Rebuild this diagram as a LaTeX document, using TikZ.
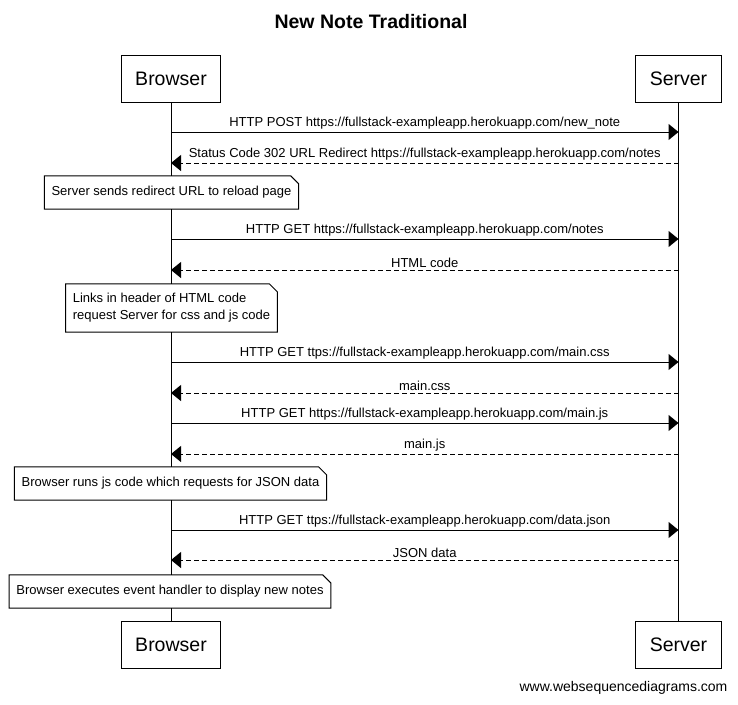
\documentclass[tikz,border=0pt]{standalone}
\usepackage{fontspec}
\setmainfont{Liberation Sans}
\usetikzlibrary{arrows.meta, positioning}

\newcommand{\dognote}[1]{%
  \draw[line width=1pt] (#1.south west) -- (#1.north west)
    -- ([xshift=-8pt]#1.north east) -- ([yshift=-8pt]#1.north east)
    -- (#1.south east) -- cycle;}

\begin{document}
\begin{tikzpicture}[
  x=1pt, y=-1pt,
  every node/.style={font=\fontsize{13}{17}\selectfont},
  actor/.style={rectangle, draw, line width=1pt, inner xsep=14pt,
                minimum height=47pt, font=\fontsize{19.5}{23}\selectfont},
  lifeline/.style={line width=1pt},
  msg/.style={line width=1pt, -{Triangle[length=10pt, width=16pt]}},
  reply/.style={msg, dash pattern=on 5pt off 3pt},
  lbl/.style={above=2pt, inner sep=0pt},
  notebox/.style={rectangle, fill=white, inner xsep=7pt, inner ysep=3pt,
                  minimum height=33pt, align=left}
]
  \fill[white] (0,0) rectangle (738,704);

  \node[font=\bfseries\fontsize{19.5}{23}\selectfont] (title) at (371,21.5)
    {New Note Traditional};

  % participants
  \node[actor] (Btop) at (171,78.5) {Browser};
  \node[actor] (Stop) at (678.5,78.5) {Server};
  \node[actor] (Bbot) at (171,644.5) {Browser};
  \node[actor] (Sbot) at (678.5,644.5) {Server};

  \draw[lifeline] (Btop.south) -- (Bbot.north);
  \draw[lifeline] (Stop.south) -- (Sbot.north);

  % messages
  \draw[msg] (Btop |- 0,132) -- (Stop |- 0,132)
    node[midway, lbl] {HTTP POST https://fullstack-exampleapp.herokuapp.com/new\_note};
  \draw[reply] (Stop |- 0,163) -- (Btop |- 0,163)
    node[midway, lbl] {Status Code 302 URL Redirect https://fullstack-exampleapp.herokuapp.com/notes};

  \node[notebox] (n1) at (171.5,192.5) {Server sends redirect URL to reload page};
  \dognote{n1}

  \draw[msg] (Btop |- 0,239) -- (Stop |- 0,239)
    node[midway, lbl] {HTTP GET https://fullstack-exampleapp.herokuapp.com/notes};
  \draw[reply] (Stop |- 0,270) -- (Btop |- 0,270)
    node[midway, lbl] {HTML code};

  \node[notebox, minimum height=48pt] (n2) at (171.5,308)
    {Links in header of HTML code\\request Server for css and js code};
  \dognote{n2}

  \draw[msg] (Btop |- 0,362) -- (Stop |- 0,362)
    node[midway, lbl] {HTTP GET ttps://fullstack-exampleapp.herokuapp.com/main.css};
  \draw[reply] (Stop |- 0,393) -- (Btop |- 0,393)
    node[midway, lbl] {main.css};
  \draw[msg] (Btop |- 0,423) -- (Stop |- 0,423)
    node[midway, lbl] {HTTP GET https://fullstack-exampleapp.herokuapp.com/main.js};
  \draw[reply] (Stop |- 0,454) -- (Btop |- 0,454)
    node[midway, lbl] {main.js};

  \node[notebox] (n3) at (170.5,483.5) {Browser runs js code which requests for JSON data};
  \dognote{n3}

  \draw[msg] (Btop |- 0,530) -- (Stop |- 0,530)
    node[midway, lbl] {HTTP GET ttps://fullstack-exampleapp.herokuapp.com/data.json};
  \draw[reply] (Stop |- 0,560) -- (Btop |- 0,560)
    node[midway, lbl] {JSON data};

  \node[notebox] (n4) at (170,591.5) {Browser executes event handler to display new notes};
  \dognote{n4}

  \node[font=\fontsize{14}{17}\selectfont] (credit) at (623.5,688)
    {www.websequencediagrams.com};
\end{tikzpicture}
\end{document}
